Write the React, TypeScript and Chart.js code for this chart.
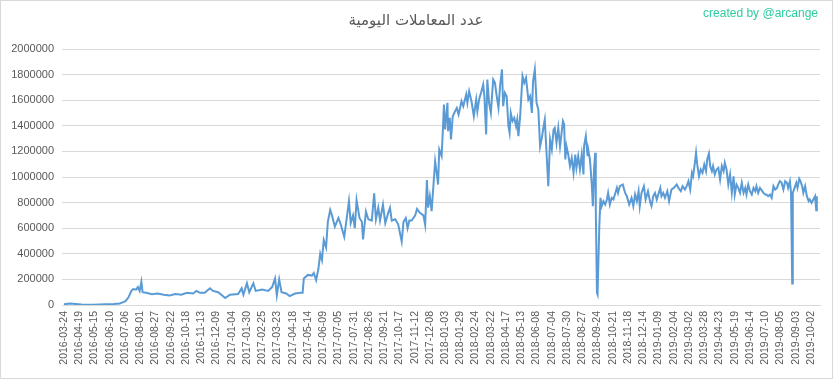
import React, { useEffect, useRef } from "react";
import { Chart, registerables } from "chart.js";

Chart.register(...registerables);

const chartTitle = "عدد المعاملات اليومية";
const creditText = "created by @arcange";

const tickLabels = [
  "2016-03-24", "2016-04-19", "2016-05-15", "2016-06-10", "2016-07-06", "2016-08-01", "2016-08-27", "2016-09-22", "2016-10-18", "2016-11-13", "2016-12-09",
  "2017-01-04", "2017-01-30", "2017-02-25", "2017-03-23", "2017-04-18", "2017-05-14", "2017-06-09", "2017-07-05", "2017-07-31", "2017-08-26", "2017-09-21", "2017-10-17", "2017-11-12", "2017-12-08",
  "2018-01-03", "2018-01-29", "2018-02-24", "2018-03-22", "2018-04-17", "2018-05-13", "2018-06-08", "2018-07-04", "2018-07-30", "2018-08-27", "2018-09-24", "2018-10-21", "2018-11-18", "2018-12-14",
  "2019-01-09", "2019-02-04", "2019-03-02", "2019-03-28", "2019-04-23", "2019-05-19", "2019-06-14", "2019-07-10", "2019-08-05", "2019-09-03", "2019-10-02",
];

// day index (category position) of each sampled value
const dayIndex = [
  0, 10, 20, 30, 50, 70, 85, 95, 100, 105, 110, 115, 118, 123, 126, 129, 132, 134, 140, 150, 160, 170, 180, 190, 200, 210, 220, 226, 232,
  240, 249, 254, 263, 275, 283, 297, 303, 306, 312, 316, 323, 327, 338, 348, 355, 360, 363, 367, 371, 379, 385, 394, 403, 407, 409, 416, 423, 426, 430, 434, 437, 440, 443, 447, 450,
  454, 457, 462, 468, 472, 478, 482, 486, 489, 493, 496, 499, 504, 508, 510, 515, 519, 525, 529, 532, 536, 539, 544, 548, 553, 556, 559, 565, 570, 576, 579, 583, 586, 589, 593, 599, 602, 607, 613, 616, 619, 621,
  624, 627, 633, 636, 638, 640, 644, 646, 648, 650, 654, 655, 658, 660, 663, 667, 670, 673, 678, 681, 686, 688, 691, 695, 699, 703, 705, 708, 712, 715, 717, 720, 722, 725, 728, 732, 735, 738, 741, 744, 747, 749, 752, 755, 758, 760, 762, 765, 768, 771, 773, 775, 778, 782, 785, 788, 792, 795, 798, 800, 803, 806, 809, 812, 815, 818, 820, 823, 826, 829, 832, 835, 837, 840, 843, 846,
  851, 853, 855, 857, 860, 863, 866, 869, 872, 874, 877, 880, 883, 886, 887, 890, 893, 894, 897, 900, 902, 904, 906, 907, 909, 910, 913, 915, 917, 920, 923, 926, 928, 931, 934, 937, 943, 945, 948, 953, 957, 960, 964, 968, 971, 974, 977, 980, 982, 985, 989, 992, 996, 1000, 1002, 1005, 1008, 1011, 1017, 1019, 1022, 1025, 1029, 1032, 1036, 1040, 1045, 1048, 1052, 1055,
  1059, 1062, 1065, 1068, 1071, 1073, 1076, 1078, 1080, 1083, 1086, 1089, 1092, 1095, 1097, 1100, 1102, 1105, 1107, 1110, 1113, 1116, 1119, 1122, 1125, 1127, 1130, 1133, 1136, 1139, 1142, 1144, 1147, 1150, 1153, 1156, 1159, 1162, 1164, 1167, 1170, 1173, 1176, 1179, 1181, 1184, 1187, 1193, 1196, 1198, 1201, 1204, 1207, 1210, 1213, 1216, 1218, 1221, 1224, 1227, 1230, 1233, 1235, 1238, 1240, 1242, 1243, 1245, 1249, 1251, 1254, 1256, 1259, 1261, 1264, 1267, 1270, 1272, 1275, 1278, 1281, 1283, 1284,
];

const dailyCount = [
  5000, 12000, 8000, 3000, 2000, 5000, 8000, 12000, 20000, 30000, 60000, 110000, 125000, 120000, 140000, 110000, 182000, 100000, 95000, 85000, 90000, 80000, 75000, 85000, 80000, 95000, 90000, 110000, 95000,
  95000, 130000, 110000, 100000, 55000, 80000, 85000, 130000, 80000, 170000, 100000, 170000, 110000, 120000, 110000, 140000, 208000, 75000, 200000, 100000, 90000, 70000, 90000, 95000, 95000, 208000, 235000, 230000, 250000, 195000, 285000, 400000, 350000, 508000, 450000, 650000,
  742000, 700000, 612000, 680000, 630000, 533000, 670000, 812000, 640000, 700000, 600000, 820000, 680000, 650000, 513000, 730000, 670000, 660000, 872000, 670000, 760000, 660000, 785000, 640000, 720000, 760000, 660000, 670000, 630000, 495000, 650000, 680000, 600000, 660000, 660000, 700000, 750000, 720000, 700000, 625000, 977000, 760000,
  850000, 733000, 1123000, 1020000, 941000, 1215000, 1163000, 1345000, 1566000, 1371000, 1580000, 1358000, 1462000, 1293000, 1475000, 1514000, 1540000, 1488000, 1592000, 1553000, 1645000, 1580000, 1670000, 1592000, 1475000, 1605000, 1514000, 1605000, 1670000, 1723000, 1631000, 1332000, 1762000, 1580000, 1501000, 1762000, 1736000, 1631000, 1540000, 1723000, 1840000, 1553000, 1658000, 1631000, 1397000, 1345000, 1501000, 1436000, 1462000, 1397000, 1449000, 1319000, 1475000, 1788000, 1736000, 1775000, 1605000, 1631000, 1501000, 1748000, 1840000, 1580000, 1527000, 1240000, 1306000, 1397000, 1449000, 1189000, 928000, 1293000, 1215000, 1371000, 1384000, 1267000, 1384000, 1240000,
  1436000, 1410000, 1137000, 1241000, 1176000, 1085000, 1150000, 1033000, 1176000, 1072000, 1163000, 1059000, 1176000, 1020000, 1241000, 1319000, 1163000, 1215000, 1137000, 954000, 772000, 1059000, 1189000, 746000, 95000, 82000, 616000, 837000, 772000, 811000, 785000, 824000, 876000, 785000, 837000, 824000, 915000, 876000, 928000, 941000, 876000, 850000, 785000, 837000, 772000, 863000, 811000, 889000, 772000, 876000, 928000, 824000, 889000, 798000, 772000, 850000, 876000, 824000, 915000, 850000, 876000, 837000, 889000, 811000, 902000, 915000, 941000, 915000, 889000, 928000,
  902000, 928000, 967000, 902000, 1033000, 1006000, 1111000, 1189000, 1098000, 1006000, 1059000, 1033000, 1098000, 1046000, 1137000, 1184000, 1085000, 1046000, 1085000, 1020000, 1059000, 1072000, 980000, 1085000, 1046000, 1111000, 1059000, 941000, 1020000, 876000, 1006000, 863000, 941000, 915000, 876000, 954000, 876000, 915000, 863000, 941000, 889000, 863000, 915000, 889000, 928000, 876000, 915000, 876000, 863000, 863000, 850000, 863000, 837000, 928000, 902000, 915000, 941000, 967000, 954000, 902000, 967000, 954000, 915000, 967000, 876000, 168000, 876000, 902000, 954000, 915000, 986000, 967000, 928000, 876000, 928000, 850000, 811000, 824000, 798000, 824000, 850000, 741000, 850000,
];

const yTicks = [0, 200000, 400000, 600000, 800000, 1000000, 1200000, 1400000, 1600000, 1800000, 2000000];

export default function App() {
  const canvasRef = useRef<HTMLCanvasElement | null>(null);

  useEffect(() => {
    document.body.style.margin = "0";
    const canvas = canvasRef.current;
    if (!canvas) return;

    const points = dayIndex.map((d, i) => ({ x: d, y: dailyCount[i] }));

    const decor = {
      id: "decor",
      beforeDraw(chart: any) {
        const ctx = chart.ctx;
        ctx.save();
        ctx.fillStyle = "#ffffff";
        ctx.fillRect(0, 0, chart.width, chart.height);
        ctx.restore();
      },
      afterDraw(chart: any) {
        const ctx = chart.ctx;
        ctx.save();
        ctx.strokeStyle = "#d9d9d9";
        ctx.lineWidth = 1;
        ctx.strokeRect(0.5, 0.5, chart.width - 1, chart.height - 1);
        ctx.fillStyle = "#595959";
        ctx.font = '15px "DejaVu Sans"';
        ctx.textAlign = "center";
        ctx.textBaseline = "middle";
        ctx.fillText(chartTitle, 416, 21);
        ctx.fillStyle = "#2DCCA0";
        ctx.font = '12px "Liberation Sans"';
        ctx.textAlign = "right";
        ctx.fillText(creditText, 818, 14);
        ctx.restore();
      },
    };

    const chart = new Chart(canvas, {
      type: "line",
      data: {
        datasets: [
          {
            data: points,
            borderColor: "#5B9BD5",
            borderWidth: 2,
            pointRadius: 0,
            tension: 0,
            fill: false,
          },
        ],
      },
      options: {
        responsive: false,
        animation: false,
        layout: { padding: { top: 49, right: 13, left: 0, bottom: 0 } },
        plugins: {
          legend: { display: false },
          title: { display: false },
          tooltip: { enabled: false },
        },
        scales: {
          x: {
            type: "linear",
            min: -3.4,
            max: 1289.4,
            afterBuildTicks: (s: any) => {
              s.ticks = tickLabels.map((_, i) => ({ value: i * 26 }));
            },
            afterFit: (s: any) => {
              s.height = 74;
            },
            grid: { display: false, drawTicks: false },
            border: { display: true, color: "#d9d9d9", width: 1 },
            ticks: {
              autoSkip: false,
              maxRotation: 90,
              minRotation: 90,
              padding: 6,
              color: "#595959",
              font: { family: '"Liberation Sans"', size: 10.5 },
              callback: (_v: any, i: number) => tickLabels[i],
            },
          },
          y: {
            min: 0,
            max: 2000000,
            afterBuildTicks: (s: any) => {
              s.ticks = yTicks.map((v) => ({ value: v }));
            },
            afterFit: (s: any) => {
              s.width = 62;
            },
            grid: { color: "#d9d9d9", drawTicks: false },
            border: { display: false },
            ticks: {
              padding: 8,
              color: "#595959",
              font: { family: '"Liberation Sans"', size: 11 },
              callback: (v: any) => String(v),
            },
          },
        },
      },
      plugins: [decor],
    });

    return () => chart.destroy();
  }, []);

  return (
    <div>
      <canvas ref={canvasRef} width={833} height={379} style={{ display: "block" }} />
    </div>
  );
}
